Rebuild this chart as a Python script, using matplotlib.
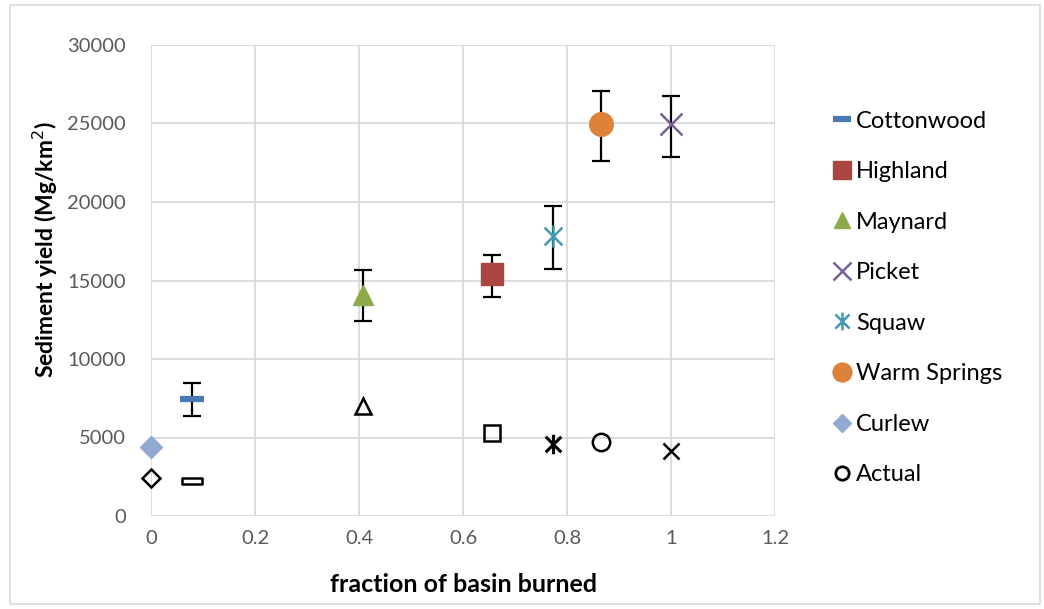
import matplotlib
matplotlib.use("Agg")
import matplotlib.pyplot as plt
from matplotlib.path import Path
from matplotlib.patches import Rectangle

plt.rcParams['font.family'] = ['Lato', 'DejaVu Sans']

# ---- data ----
names = ["Cottonwood", "Highland", "Maynard", "Picket", "Squaw", "Warm Springs", "Curlew"]
frac_burned = [0.078, 0.656, 0.408, 1.0, 0.773, 0.865, 0.0]
predicted = [7450, 15400, 14100, 24950, 17850, 24950, 4400]
err_upper = [8470, 16620, 15670, 26750, 19745, 27070, None]
err_lower = [6350, 13980, 12430, 22870, 15760, 22620, None]
actual = [2200, 5300, 7000, 4150, 4600, 4700, 2400]

colors = ["#4A78B0", "#AA4541", "#8DAA4B", "#7A5E9A", "#4599B0", "#DE8239", "#92A9D2"]

# ---- custom markers ----
star = Path([(-1, -1), (1, 1), (-1, 1), (1, -1), (0, -1.25), (0, 1.25)],
            [Path.MOVETO, Path.LINETO, Path.MOVETO, Path.LINETO, Path.MOVETO, Path.LINETO])
rect = Path([(-1, -0.28), (1, -0.28), (1, 0.28), (-1, 0.28), (-1, -0.28)],
            [Path.MOVETO, Path.LINETO, Path.LINETO, Path.LINETO, Path.CLOSEPOLY])

pred_style = {
    "Cottonwood": dict(marker="_", ms=17, mew=4.5),
    "Highland": dict(marker="s", ms=15.5),
    "Maynard": dict(marker="^", ms=15),
    "Picket": dict(marker="x", ms=16, mew=1.8),
    "Squaw": dict(marker=star, ms=16, mew=1.8, mfc="none"),
    "Warm Springs": dict(marker="o", ms=17),
    "Curlew": dict(marker="D", ms=11.5),
}
act_style = {
    "Cottonwood": dict(marker=rect, ms=15, mew=1.8),
    "Highland": dict(marker="s", ms=12, mew=1.8),
    "Maynard": dict(marker="^", ms=12, mew=1.8),
    "Picket": dict(marker="x", ms=11.5, mew=1.8),
    "Squaw": dict(marker=star, ms=14, mew=2.2),
    "Warm Springs": dict(marker="o", ms=12.5, mew=1.8),
    "Curlew": dict(marker="D", ms=9, mew=1.8),
}

fig = plt.figure(figsize=(10.44, 6.09), dpi=100)
fig.patches.append(Rectangle((10 / 1044, 5 / 609), 1030 / 1044, 599 / 609,
                             transform=fig.transFigure, fill=False,
                             edgecolor="#D9D9D9", lw=1.2))
ax = fig.add_axes([151 / 1044, 93 / 609, 624 / 1044, 471 / 609])

handles = []
for i, n in enumerate(names):
    if err_upper[i] is not None:
        ax.errorbar([frac_burned[i]], [predicted[i]],
                    yerr=[[predicted[i] - err_lower[i]], [err_upper[i] - predicted[i]]],
                    fmt="none", ecolor="black", elinewidth=1.6, capsize=6.5, capthick=1.6, zorder=3)
    st = dict(pred_style[n])
    h, = ax.plot([frac_burned[i]], [predicted[i]], linestyle="none", color=colors[i],
                 mec=colors[i], label=n, zorder=4, clip_on=False, **st)
    handles.append(h)

for i, n in enumerate(names):
    ax.plot([frac_burned[i]], [actual[i]], linestyle="none", color="black", mfc="none",
            mec="black", zorder=4, clip_on=False, **act_style[n])

h_act, = ax.plot([], [], linestyle="none", marker="o", ms=12, mfc="none", mec="black",
                 mew=2, label="Actual")
handles.append(h_act)

ax.set_xlim(0, 1.2)
ax.set_ylim(0, 30000)
ax.set_xticks([0, 0.2, 0.4, 0.6, 0.8, 1.0, 1.2])
ax.set_xticklabels(["0", "0.2", "0.4", "0.6", "0.8", "1", "1.2"])
ax.set_yticks(range(0, 30001, 5000))
ax.grid(True, color="#D9D9D9", lw=1.3)
ax.set_axisbelow(True)
for s in ax.spines.values():
    s.set_visible(False)
ax.tick_params(axis="y", length=0, labelsize=14.5, colors="#595959", pad=18)
ax.tick_params(axis="x", length=0, labelsize=14.5, colors="#595959", pad=10)

ax.set_xlabel("fraction of basin burned", fontsize=18, fontweight="bold")
ax.xaxis.set_label_coords(0.5, (516 - 585) / 471, transform=ax.transAxes)
ax.xaxis.label.set_va("center")
ax.set_ylabel("Sediment yield (Mg/km$^{2}$)", fontsize=16.5, fontweight="bold")
ax.yaxis.set_label_coords((45 - 151) / 624, (516 - 250) / 471, transform=ax.transAxes)
ax.yaxis.label.set_va("center")

fig.legend(handles=handles, loc="center left", bbox_to_anchor=(810 / 1044, 1 - 298 / 609),
           frameon=False, fontsize=17, labelspacing=1.25, handlelength=0.9,
           handletextpad=0.15, numpoints=1, markerscale=0.8)

fig.savefig("out.png", dpi=100)
